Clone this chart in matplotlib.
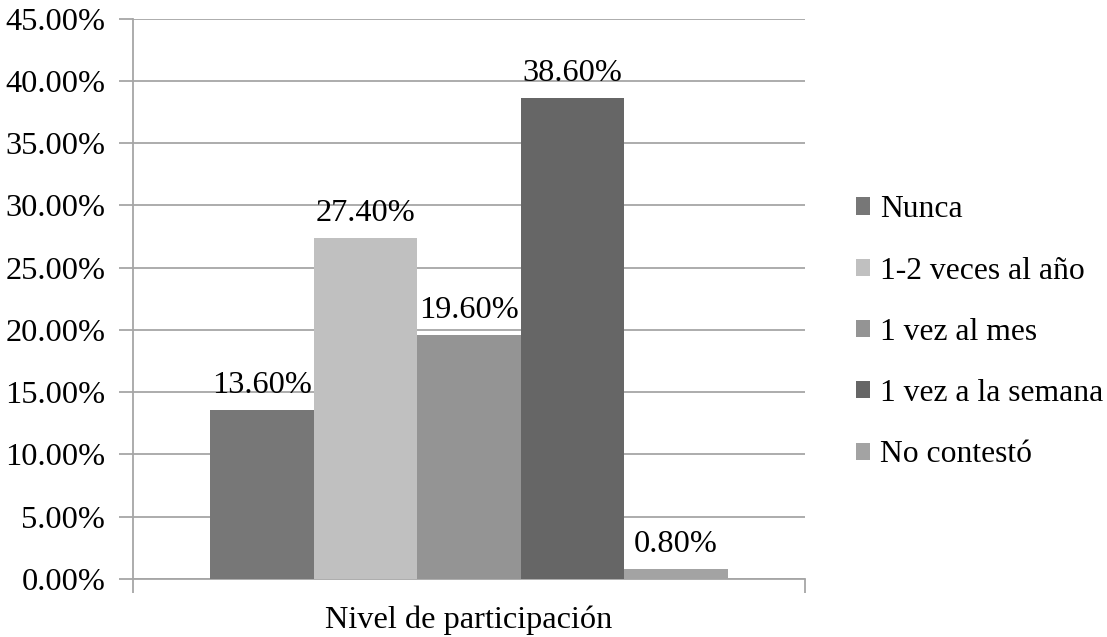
import numpy as np
import matplotlib
matplotlib.use('Agg')
import matplotlib.pyplot as plt
from matplotlib.ticker import FuncFormatter, MultipleLocator

plt.rcParams['font.family'] = ['Liberation Serif', 'DejaVu Serif']

categories = ['Nunca', '1-2 veces al año', '1 vez al mes', '1 vez a la semana', 'No contestó']
values = [13.6, 27.4, 19.6, 38.6, 0.8]
colors = ['#777777', '#c0c0c0', '#949494', '#666666', '#a3a3a3']
xlabel = 'Nivel de participación'

fs = 23.3

fig = plt.figure(figsize=(11.07, 6.37), dpi=100)
ax = fig.add_axes([133 / 1107, 1 - 579 / 637, 672 / 1107, 560.5 / 637])

n = len(values)
width = 0.77 / n
offsets = (np.arange(n) - (n - 1) / 2) * width
for i in range(n):
    ax.bar(offsets[i], values[i], width=width, color=colors[i], label=categories[i], zorder=3)
    ax.text(offsets[i], values[i] + 0.8, f'{values[i]:.2f}%', ha='center', va='bottom', fontsize=fs)

ax.set_xlim(-0.5, 0.5)
ax.set_ylim(0, 45)
ax.yaxis.set_major_locator(MultipleLocator(5))
ax.yaxis.set_major_formatter(FuncFormatter(lambda v, p: f'{v:.2f}%'))
ax.set_xticks([-0.5, 0.5])
ax.set_xticklabels(['', ''])
ax.tick_params(axis='x', length=10, color='#a6a6a6', width=1.3)
ax.tick_params(axis='y', length=10, color='#a6a6a6', width=1.3, labelsize=fs, pad=10)
ax.grid(axis='y', color='#a6a6a6', linewidth=1.3, zorder=0)
for s in ['top', 'right']:
    ax.spines[s].set_visible(False)
for s in ['left', 'bottom']:
    ax.spines[s].set_color('#a6a6a6')
    ax.spines[s].set_linewidth(1.3)
ax.set_xlabel(xlabel, fontsize=fs)
ax.xaxis.set_label_coords(0.5, -0.048)

ax.legend(loc='center left', bbox_to_anchor=((856 - 133) / 672, 0.44), frameon=False,
          fontsize=22.8, handlelength=0.45, handleheight=0.45, handletextpad=0.3, labelspacing=1.02,
          borderaxespad=0, borderpad=0)

fig.savefig('out.png', dpi=100)
